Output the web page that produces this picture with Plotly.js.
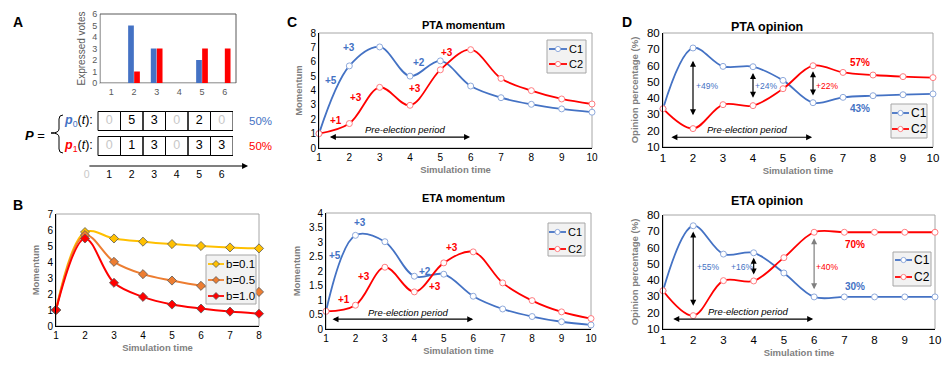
<!DOCTYPE html>
<html><head><meta charset="utf-8">
<script src="https://cdn.plot.ly/plotly-3.0.1.min.js"></script>
<style>html,body{margin:0;padding:0;background:#fff}#chart{width:944px;height:368px}</style>
</head><body><div id="chart"></div>
<script>
// ---------- DATA ----------
const voteCats = [1, 2, 3, 4, 5, 6];
const votesC1 = [0, 5, 3, 0, 2, 0];
const votesC2 = [0, 1, 3, 0, 3, 3];
const tLabels = [0, 1, 2, 3, 4, 5, 6];
const shareC1 = '50%';
const shareC2 = '50%';

const bTime = [1, 2, 3, 4, 5, 6, 7, 8];
const b01 = [1, 5.87, 5.47, 5.27, 5.12, 5.0, 4.91, 4.85];
const b05 = [1, 5.68, 4.01, 3.24, 2.84, 2.51, 2.3, 2.13];
const b10 = [1, 5.47, 2.7, 1.82, 1.34, 1.09, 0.9, 0.77];
const bNames = ['b=0.1', 'b=0.5', 'b=1.0'];

const simTime = [1, 2, 3, 4, 5, 6, 7, 8, 9, 10];
const ptaMomC1 = [1, 5.71, 7.03, 5.0, 6.06, 4.31, 3.5, 3.04, 2.72, 2.49];
const ptaMomC2 = [1, 1.7, 4.22, 2.97, 5.44, 6.84, 4.84, 3.99, 3.41, 3.06];
const etaMomC1 = [0.61, 3.23, 3.01, 1.82, 1.89, 1.13, 0.69, 0.43, 0.25, 0.14];
const etaMomC2 = [0.61, 0.82, 2.13, 1.28, 2.28, 2.66, 1.59, 0.98, 0.59, 0.36];
const ptaOpC1 = [33.5, 70.8, 59.5, 59.3, 50.9, 37.2, 40.5, 41.5, 42.1, 42.6];
const ptaOpC2 = [33.5, 21.3, 36.0, 35.4, 45.8, 59.9, 55.8, 54.2, 53.2, 52.6];
const etaOpC1 = [33.5, 73.4, 56.0, 56.8, 44.4, 29.7, 29.7, 29.7, 29.7, 29.7];
const etaOpC2 = [33.5, 18.2, 39.7, 39.5, 53.8, 69.4, 69.4, 69.4, 69.4, 69.4];
const seriesNames = ['C1', 'C2'];

// ---------- HELPERS ----------
const W = 944, H = 368;
const fx = p => p / W, fy = p => 1 - p / H;
const dx = (a, b) => [fx(a), fx(b)];
const dy = (top, bot) => [fy(bot), fy(top)];
const FONT = 'Liberation Sans, Arial, Helvetica, sans-serif';
const BLUE = '#4472C4', RED = '#FF0000', GOLD = '#FFC000', ORANGE = '#ED7D31';
const GREY = '#7f7f7f';

const shapes = [], annotations = [], traces = [];

function frame(ax, color) {
  shapes.push({type: 'rect', xref: ax[0] + ' domain', yref: ax[1] + ' domain', x0: 0, x1: 1, y0: 0, y1: 1,
    line: {color: color || '#a6a6a6', width: 1}, layer: 'below'});
}
function ann(o) { annotations.push(Object.assign({showarrow: false, font: {family: FONT}}, o)); }
function txt(xr, yr, x, y, text, size, color, extra) {
  ann(Object.assign({xref: xr, yref: yr, x: x, y: y, text: text, font: {family: FONT, size: size, color: color}}, extra || {}));
}
function dArrow(xr, yr, x0, y0, x1, y1, color) {
  annotations.push({xref: xr, yref: yr, axref: xr, ayref: yr, x: x1, y: y1, ax: x0, ay: y0, text: '',
    showarrow: true, arrowside: 'end+start', arrowhead: 2, startarrowhead: 2, arrowsize: 1, startarrowsize: 1,
    arrowwidth: 1.2, arrowcolor: color || '#000'});
}
function legendBox(x0, y0, w, h, rows, fontSize) {
  shapes.push({type: 'rect', xref: 'paper', yref: 'paper', x0: fx(x0), x1: fx(x0 + w), y0: fy(y0 + h), y1: fy(y0),
    fillcolor: '#f2f2f2', line: {color: '#a6a6a6', width: 1}, layer: 'above'});
  rows.forEach(r => {
    shapes.push({type: 'line', xref: 'paper', yref: 'paper', x0: fx(r.l0), x1: fx(r.l1), y0: fy(r.y), y1: fy(r.y),
      line: {color: r.color, width: 1.8}, layer: 'above'});
    const m = (r.l0 + r.l1) / 2, s = r.ms;
    if (r.sym === 'diamond') {
      shapes.push({type: 'path', xref: 'paper', yref: 'paper',
        path: `M${fx(m)},${fy(r.y - s)} L${fx(m + s)},${fy(r.y)} L${fx(m)},${fy(r.y + s)} L${fx(m - s)},${fy(r.y)} Z`,
        fillcolor: r.color, line: {color: '#595959', width: 0.8}, layer: 'above'});
    } else {
      shapes.push({type: 'circle', xref: 'paper', yref: 'paper', x0: fx(m - s), x1: fx(m + s), y0: fy(r.y + s), y1: fy(r.y - s),
        fillcolor: '#ffffff', line: {color: r.mcolor, width: 1}, layer: 'above'});
    }
    ann({xref: 'paper', yref: 'paper', x: fx(r.tx), y: fy(r.y), xanchor: 'left', yanchor: 'middle', text: r.text,
      font: {family: FONT, size: fontSize, color: '#000'}});
  });
}

const axBase = {showgrid: false, zeroline: false, showline: true, linecolor: '#000', linewidth: 1, ticks: '',
  fixedrange: true, tickfont: {family: FONT, size: 10, color: '#000'}};
function xax(dom, range, anchor, extra) {
  return Object.assign({}, axBase, {domain: dom, range: range, anchor: anchor}, extra || {});
}

// ---------- PANEL A : bars ----------
traces.push({type: 'bar', x: voteCats, y: votesC1, marker: {color: BLUE}, xaxis: 'x', yaxis: 'y', showlegend: false, hoverinfo: 'skip'});
traces.push({type: 'bar', x: voteCats, y: votesC2, marker: {color: RED}, xaxis: 'x', yaxis: 'y', showlegend: false, hoverinfo: 'skip'});
frame(['x', 'y'], '#595959');

// ---------- PANEL A : matrix ----------
const rowsP = [{vals: votesC1, y: 2, color: BLUE, idx: 0, share: shareC1},
               {vals: votesC2, y: 1, color: RED, idx: 1, share: shareC2}];
rowsP.forEach(r => {
  voteCats.forEach((t, i) => {
    shapes.push({type: 'rect', xref: 'x2', yref: 'y2', x0: t - 0.5, x1: t + 0.5, y0: r.y - 0.38, y1: r.y + 0.38,
      line: {color: '#000', width: 1}});
  });
  traces.push({type: 'scatter', mode: 'text', x: voteCats, y: voteCats.map(() => r.y), text: r.vals.map(String),
    textfont: {family: FONT, size: 12.5, color: r.vals.map(v => v === 0 ? '#c8c8c8' : '#000')},
    xaxis: 'x2', yaxis: 'y2', showlegend: false, hoverinfo: 'skip', cliponaxis: false});
  txt('x2', 'y2', voteCats[0] - 0.5, r.y,
    `<span style="color:${r.color}"><b><i>p</i></b><sub>${r.idx}</sub></span>(<i>t</i>):`, 12.5, '#000',
    {xanchor: 'right', xshift: -3});
  txt('x2', 'y2', voteCats[voteCats.length - 1] + 0.5, r.y, r.share, 11.5, r.color, {xanchor: 'left', xshift: 14});
});
annotations.push({xref: 'x2', yref: 'y2', axref: 'x2', ayref: 'y2', x: 7.17, y: 0.2, ax: 0.05, ay: 0.2, text: '',
  showarrow: true, arrowhead: 2, arrowsize: 1, arrowwidth: 1.2, arrowcolor: '#000'});
txt('x2', 'y2', 7.55, 0.3, '<i>t</i>', 13, '#000');
txt('paper', 'paper', fx(23), fy(135), '<b><i>P</i></b> =', 13, '#000', {xanchor: 'left'});
shapes.push({type: 'path', xref: 'paper', yref: 'paper', line: {color: '#000', width: 1},
  path: `M${fx(63)},${fy(115)} Q${fx(59)},${fy(115)} ${fx(59)},${fy(119)} L${fx(59)},${fy(129)} Q${fx(59)},${fy(133)} ${fx(51)},${fy(133)} Q${fx(59)},${fy(133)} ${fx(59)},${fy(137)} L${fx(59)},${fy(149)} Q${fx(59)},${fy(153)} ${fx(63)},${fy(153)}`});

// ---------- PANEL B ----------
[[b01, GOLD], [b05, ORANGE], [b10, RED]].forEach((s, i) => {
  traces.push({type: 'scatter', mode: 'lines+markers', x: bTime, y: s[0], name: bNames[i], xaxis: 'x3', yaxis: 'y3',
    line: {color: s[1], width: 2, shape: 'spline', smoothing: 1}, cliponaxis: false,
    marker: {symbol: 'diamond', size: 7, color: s[1], line: {color: '#595959', width: 0.8}}, showlegend: false, hoverinfo: 'skip'});
});
frame(['x3', 'y3']);
legendBox(206, 255, 50, 49, [
  {l0: 208, l1: 224, y: 264, color: GOLD, sym: 'diamond', ms: 3.5, tx: 224, text: bNames[0]},
  {l0: 208, l1: 224, y: 280, color: ORANGE, sym: 'diamond', ms: 3.5, tx: 224, text: bNames[1]},
  {l0: 208, l1: 224, y: 296, color: RED, sym: 'diamond', ms: 3.5, tx: 224, text: bNames[2]}], 11.5);

// ---------- PANELS C & D ----------
const lineSets = [
  {xa: 'x4', ya: 'y4', c1: ptaMomC1, c2: ptaMomC2},
  {xa: 'x5', ya: 'y5', c1: etaMomC1, c2: etaMomC2},
  {xa: 'x6', ya: 'y6', c1: ptaOpC1, c2: ptaOpC2},
  {xa: 'x7', ya: 'y7', c1: etaOpC1, c2: etaOpC2}];
lineSets.forEach(s => {
  [[s.c1, BLUE, '#8FAADC'], [s.c2, RED, '#FF7C80']].forEach((d, i) => {
    traces.push({type: 'scatter', mode: 'lines+markers', x: simTime, y: d[0], name: seriesNames[i], xaxis: s.xa, yaxis: s.ya,
      line: {color: d[1], width: 1.8, shape: 'spline', smoothing: 1}, cliponaxis: false,
      marker: {symbol: 'circle', size: 6, color: '#ffffff', line: {color: d[2], width: 1}}, showlegend: false, hoverinfo: 'skip'});
  });
  frame([s.xa, s.ya]);
});
function cdLegend(x0, y0, w, h, l0, l1, tx, r1, r2, fs) {
  legendBox(x0, y0, w, h, [
    {l0: l0, l1: l1, y: r1, color: BLUE, mcolor: '#8FAADC', sym: 'circle', ms: 2.6, tx: tx, text: seriesNames[0]},
    {l0: l0, l1: l1, y: r2, color: RED, mcolor: '#FF7C80', sym: 'circle', ms: 2.6, tx: tx, text: seriesNames[1]}], fs);
}
cdLegend(547, 40, 39, 33, 549, 567, 567, 49, 64, 11);
cdLegend(548, 223, 37, 33, 549, 566, 566, 232, 249, 11);
cdLegend(891, 104, 36, 34, 892, 909, 909, 113, 129, 12);
cdLegend(893, 252, 38, 34, 895, 912, 912, 260, 277, 12);

// C top annotations
const bfC = 10;
txt('x4', 'y4', 1.4, 4.72, '<b>+5</b>', bfC, BLUE);
txt('x4', 'y4', 2.0, 6.96, '<b>+3</b>', bfC, BLUE);
txt('x4', 'y4', 4.3, 5.97, '<b>+2</b>', bfC, BLUE);
txt('x4', 'y4', 5.22, 6.67, '<b>+3</b>', bfC, RED);
txt('x4', 'y4', 4.17, 4.17, '<b>+3</b>', bfC, RED);
txt('x4', 'y4', 2.22, 3.54, '<b>+3</b>', bfC, RED);
txt('x4', 'y4', 1.56, 1.94, '<b>+1</b>', bfC, RED);
txt('x4', 'y4', 3.83, 1.28, '<i>Pre-election period</i>', 9.5, '#000');
dArrow('x4', 'y4', 1.31, 0.76, 5.98, 0.76);
// C bottom annotations
txt('x5', 'y5', 1.3, 2.52, '<b>+5</b>', bfC, BLUE);
txt('x5', 'y5', 2.15, 3.66, '<b>+3</b>', bfC, BLUE);
txt('x5', 'y5', 4.36, 2.0, '<b>+2</b>', bfC, BLUE);
txt('x5', 'y5', 5.28, 2.8, '<b>+3</b>', bfC, RED);
txt('x5', 'y5', 4.7, 1.48, '<b>+3</b>', bfC, RED);
txt('x5', 'y5', 2.29, 1.8, '<b>+3</b>', bfC, RED);
txt('x5', 'y5', 1.6, 1.03, '<b>+1</b>', bfC, RED);
txt('x5', 'y5', 3.8, 0.57, '<i>Pre-election period</i>', 9.5, '#000');
dArrow('x5', 'y5', 1.17, 0.34, 6.0, 0.34);
// D top annotations
dArrow('x6', 'y6', 2, 28.5, 2, 63);
dArrow('x6', 'y6', 4, 39.3, 4, 55.4);
dArrow('x6', 'y6', 6, 40.7, 6, 56.5);
txt('x6', 'y6', 2.46, 47.5, '+49%', 8.5, BLUE);
txt('x6', 'y6', 4.44, 47.5, '+24%', 8.5, BLUE);
txt('x6', 'y6', 6.47, 47.5, '+22%', 8.5, RED);
txt('x6', 'y6', 7.57, 61.8, '<b>57%</b>', 10, RED);
txt('x6', 'y6', 7.57, 33.6, '<b>43%</b>', 10, BLUE);
txt('x6', 'y6', 3.8, 20.6, '<i>Pre-election period</i>', 9.5, '#000');
dArrow('x6', 'y6', 1.23, 16.0, 5.97, 16.0);
// D bottom annotations
dArrow('x7', 'y7', 2, 23.4, 2, 69.8);
dArrow('x7', 'y7', 4, 42.5, 4, 53.8);
dArrow('x7', 'y7', 6, 33.5, 6, 65.7, '#7f7f7f');
txt('x7', 'y7', 2.48, 48.3, '+55%', 8.5, BLUE);
txt('x7', 'y7', 3.6, 48.3, '+16%', 8.5, BLUE);
txt('x7', 'y7', 6.42, 48.3, '+40%', 8.5, RED);
txt('x7', 'y7', 7.36, 62, '<b>70%</b>', 10, RED);
txt('x7', 'y7', 7.36, 36, '<b>30%</b>', 10, BLUE);
txt('x7', 'y7', 3.8, 20.6, '<i>Pre-election period</i>', 9.5, '#000');
dArrow('x7', 'y7', 1.29, 16.1, 5.97, 16.1);

// titles & panel letters
txt('paper', 'paper', fx(463), fy(17), '<b>PTA momentum</b>', 11, '#000');
txt('paper', 'paper', fx(463), fy(198), '<b>ETA momentum</b>', 11, '#000');
txt('paper', 'paper', fx(805), fy(18), '<b>PTA opinion</b>', 12.5, '#000');
txt('paper', 'paper', fx(805), fy(201), '<b>ETA opinion</b>', 12.5, '#000');
txt('paper', 'paper', fx(11), fy(11.5), '<b>A</b>', 14, '#000');
txt('paper', 'paper', fx(11), fy(205), '<b>B</b>', 14, '#000');
txt('paper', 'paper', fx(285), fy(12), '<b>C</b>', 14, '#000');
txt('paper', 'paper', fx(627), fy(11.5), '<b>D</b>', 14, '#000');

const tf = s => ({family: FONT, size: 9.5, color: GREY});
const simTitle = {text: '<b>Simulation time</b>', font: tf(), standoff: 4};

const layout = {
  width: W, height: H, margin: {l: 0, r: 0, t: 0, b: 0}, paper_bgcolor: '#fff', plot_bgcolor: 'rgba(0,0,0,0)',
  showlegend: false, barmode: 'group', bargap: 0.47, bargroupgap: 0.05,
  font: {family: FONT},
  xaxis: xax(dx(100, 236), [0.5, 6.5], 'y', {linecolor: '#d9d9d9', tickvals: voteCats, tickfont: {family: FONT, size: 9, color: '#595959'}}),
  yaxis: xax(dy(14, 83), [0, 6], 'x', {linecolor: '#d9d9d9', dtick: 1, tickfont: {family: FONT, size: 9, color: '#595959'},
    title: {text: 'Expressed votes', font: {family: FONT, size: 10, color: '#595959'}, standoff: 4}}),
  xaxis2: xax(dx(80, 233), [-0.3, 6.5], 'y2', {showline: false, tickvals: tLabels,
    ticktext: tLabels.map(v => v === 0 ? '<span style="color:#c8c8c8">0</span>' : String(v)), tickfont: {family: FONT, size: 10.5, color: '#000'}}),
  yaxis2: xax(dy(108.5, 166), [0.2, 2.5], 'x2', {visible: false}),
  xaxis3: xax(dx(56, 259), [1, 8], 'y3', {dtick: 1, title: simTitle}),
  yaxis3: xax(dy(214, 326), [0, 7], 'x3', {dtick: 1, title: {text: '<b>Momentum</b>', font: tf(), standoff: 6}}),
  xaxis4: xax(dx(319, 592), [1, 10], 'y4', {dtick: 1, title: simTitle}),
  yaxis4: xax(dy(33, 148), [0, 8], 'x4', {dtick: 1, title: {text: '<b>Momentum</b>', font: tf(), standoff: 6}}),
  xaxis5: xax(dx(326, 591), [1, 10], 'y5', {dtick: 1, title: simTitle}),
  yaxis5: xax(dy(213, 329), [0, 4], 'x5', {dtick: 0.5, title: {text: '<b>Momentum</b>', font: tf(), standoff: 6}}),
  xaxis6: xax(dx(663, 933), [1, 10], 'y6', {dtick: 1, tickfont: {family: FONT, size: 11.5, color: '#000'}, title: simTitle}),
  yaxis6: xax(dy(33, 147), [10, 80], 'x6', {dtick: 10, tickfont: {family: FONT, size: 11.5, color: '#000'},
    title: {text: '<b>Opinion percentage (%)</b>', font: tf(), standoff: 6}}),
  xaxis7: xax(dx(663, 935), [1, 10], 'y7', {dtick: 1, tickfont: {family: FONT, size: 11.5, color: '#000'}, title: simTitle}),
  yaxis7: xax(dy(215, 329), [10, 80], 'x7', {dtick: 10, tickfont: {family: FONT, size: 11.5, color: '#000'},
    title: {text: '<b>Opinion percentage (%)</b>', font: tf(), standoff: 6}}),
  shapes: shapes, annotations: annotations
};
Plotly.newPlot('chart', traces, layout, {staticPlot: true, displayModeBar: false});
</script></body></html>
